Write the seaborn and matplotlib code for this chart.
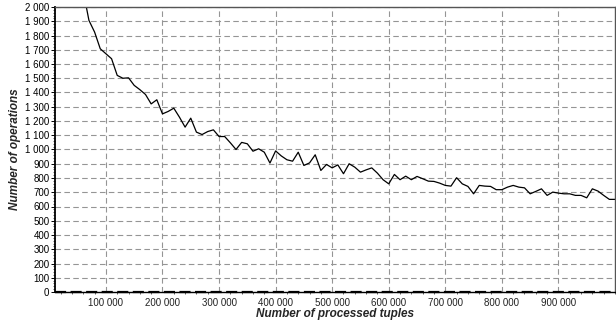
import numpy as np
import pandas as pd
import matplotlib
matplotlib.use("Agg")
import matplotlib.pyplot as plt
from matplotlib.ticker import FuncFormatter, MultipleLocator, FixedLocator
import seaborn as sns

# processed tuples, every 10 000 up to 1 000 000
tuples = list(range(10000, 1000001, 10000))
# values above 2 000 (first points) are cut off by the axis in the original
operations = [
    6500, 4200, 3200, 2700, 2350, 2110, 1906, 1824, 1707, 1672,
    1637, 1520, 1500, 1503, 1450, 1420, 1386, 1320, 1349, 1250,
    1267, 1290, 1227, 1157, 1220, 1122, 1105, 1126, 1138, 1091,
    1091, 1047, 1000, 1050, 1040, 988, 1005, 981, 905, 990,
    955, 928, 918, 981, 888, 906, 963, 853, 895, 871,
    892, 830, 900, 876, 841, 857, 871, 834, 788, 759,
    825, 788, 813, 788, 811, 795, 778, 776, 764, 748,
    743, 802, 759, 741, 689, 748, 743, 741, 718, 718,
    736, 748, 736, 731, 689, 706, 724, 678, 701, 694,
    689, 689, 678, 678, 661, 724, 708, 678, 650, 650,
]
zero_line = [0] * len(tuples)
x_ticks = list(range(100000, 900001, 100000))

df = pd.DataFrame({"tuples": tuples, "operations": operations, "zero": zero_line})

sns.set_style("white")
plt.rcParams["font.family"] = ["Liberation Sans", "DejaVu Sans"]

fig = plt.figure(figsize=(6.16, 3.21), dpi=100)
ax = fig.add_axes([55 / 616, 1 - 292 / 321, 560 / 616, 285 / 321])

sns.lineplot(data=df, x="tuples", y="operations", ax=ax, color="black", linewidth=0.9)
sns.lineplot(data=df, x="tuples", y="zero", ax=ax, color="black", linewidth=1.6,
             linestyle=(0, (5, 2)), clip_on=False)

ax.set_xlim(10000, 1000000)
ax.set_ylim(0, 2000)

ax.xaxis.set_major_locator(FixedLocator(x_ticks))
ax.xaxis.set_minor_locator(MultipleLocator(20000))
ax.yaxis.set_major_locator(MultipleLocator(100))
ax.yaxis.set_minor_locator(MultipleLocator(20))

space_fmt = FuncFormatter(lambda v, p: f"{int(round(v)):,}".replace(",", " "))
ax.xaxis.set_major_formatter(space_fmt)
ax.yaxis.set_major_formatter(space_fmt)

ax.grid(True, which="major", color="#959595", linestyle=(0, (5, 3)), linewidth=0.8)
ax.tick_params(axis="both", which="major", length=3, width=0.7, labelsize=7,
               pad=1, direction="out", bottom=True, left=True, colors="black")
ax.tick_params(axis="both", which="minor", length=1.5, width=0.5,
               bottom=True, left=True, direction="out")
ax.tick_params(axis="x", which="major", length=0, pad=4)
for lbl in ax.get_xticklabels():
    lbl.set_color("#222222")

ax.spines["left"].set_color("black")
ax.spines["left"].set_linewidth(1.3)
ax.spines["bottom"].set_color("black")
ax.spines["bottom"].set_linewidth(1.0)
ax.spines["top"].set_color("#555555")
ax.spines["top"].set_linewidth(1.0)
ax.spines["right"].set_color("#555555")
ax.spines["right"].set_linewidth(1.0)

ax.set_xlabel("Number of processed tuples", fontsize=8.5, fontweight="bold",
              fontstyle="italic", labelpad=0)
ax.set_ylabel("Number of operations", fontsize=8.5, fontweight="bold",
              fontstyle="italic", labelpad=3)

fig.savefig("out.png", dpi=100)
